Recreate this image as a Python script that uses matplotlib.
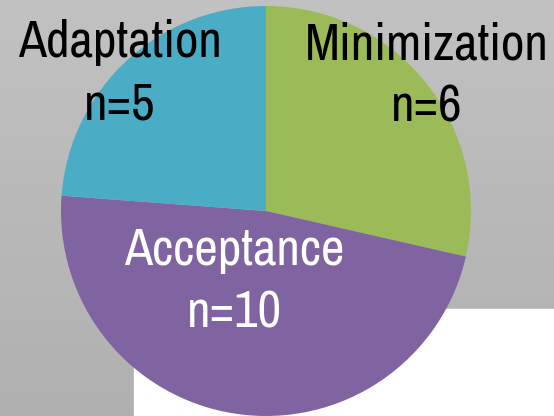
import numpy as np
import matplotlib
matplotlib.use("Agg")
import matplotlib.pyplot as plt
from matplotlib import font_manager

categories = ["Minimization", "Acceptance", "Adaptation"]
counts = [6, 10, 5]
colors = ["#9BBB59", "#8064A2", "#4BACC6"]
text_colors = ["black", "white", "black"]

names = {f.name for f in font_manager.fontManager.ttflist}
fam, fs = "Liberation Sans", 32
for cand, size in [("Archivo Narrow", 37), ("Roboto Condensed", 36), ("Liberation Sans Narrow", 37)]:
    if cand in names:
        fam, fs = cand, size
        break

W, H = 554, 416
fig = plt.figure(figsize=(W / 100, H / 100), dpi=100)
ax = fig.add_axes([0, 0, 1, 1])

# gray gradient background
grad = np.linspace(0.69, 0.76, 256).reshape(-1, 1)
ax.imshow(np.dstack([grad] * 3), extent=[0, W, H, 0], aspect="auto", zorder=0)
ax.add_patch(plt.Rectangle((134, 0), W - 134, H - 309, color="white", zorder=1))

cx, cy, r = 266, H - 211, 205
ax.pie(counts, colors=colors, startangle=90, counterclock=False,
       center=(cx, cy), radius=r, frame=True,
       wedgeprops=dict(linewidth=0, zorder=2))
ax.set_xlim(0, W)
ax.set_ylim(0, H)
ax.set_aspect("auto")
ax.axis("off")

# label positions (x center, baseline of first line, baseline of second line), in px from top
label_pos = [(427, 60, 122), (234, 265, 328), (120, 57, 120)]
for cat, n, tc, (x, y1, y2) in zip(categories, counts, text_colors, label_pos):
    ax.text(x, H - y1, cat, ha="center", va="baseline", fontsize=fs,
            family=fam, color=tc, zorder=5)
    ax.text(x, H - y2, f"n={n}", ha="center", va="baseline", fontsize=fs,
            family=fam, color=tc, zorder=5)

fig.savefig("out.png", dpi=100)
